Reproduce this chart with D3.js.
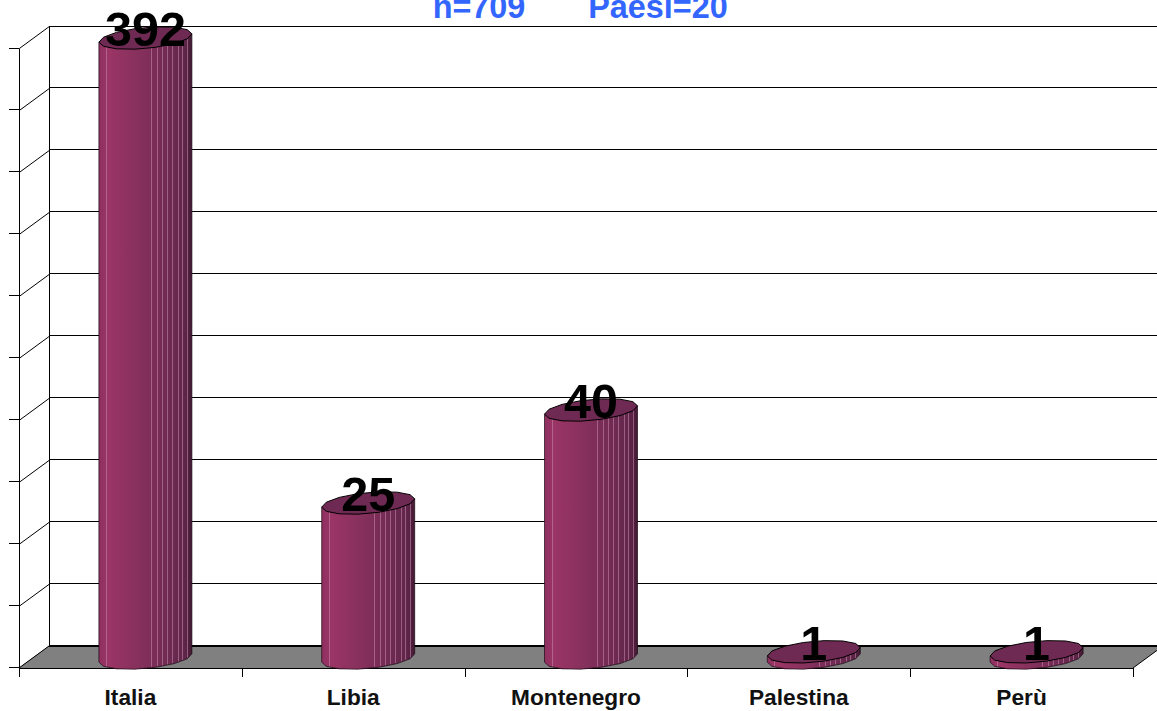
<!DOCTYPE html>
<html><head><meta charset="utf-8">
<script src="https://cdn.jsdelivr.net/npm/d3@7/dist/d3.min.js"></script>
<style>html,body{margin:0;padding:0;background:#fff;overflow:hidden}svg{display:block}text{font-family:"Liberation Sans",Arial,sans-serif;font-weight:bold}</style>
</head><body><svg id="c" width="1157" height="711"></svg>
<script>
const categories = ["Italia","Libia","Montenegro","Palestina","Perù"];
const values = [392,25,40,1,1];
const axisTicks = [0,10,20,30,40,50,60,70,80,90,100];
const titleParts = ["n=709","Paesi=20"];

const W=1157,H=711, depthX=30, depthY=22;
const svg=d3.select("#c");
const x=d3.scaleBand().domain(categories).range([19,1133]);
const yFront=d3.scaleLinear().domain([0,100]).range([668,48.4]);
const yBar=d3.scaleLinear().domain([0,100]).range([658,38]).clamp(true);
const yBack=v=>yFront(v)-depthY;
const snap=v=>Math.floor(v-0.4)+0.5;

const defs=svg.append("defs");
const grad=defs.append("linearGradient").attr("id","cyl");
[[0,"#8e3060"],[0.1,"#9b3566"],[0.45,"#85305c"],[0.75,"#6f2a52"],[0.92,"#60264a"],[1,"#431933"]]
 .forEach(s=>grad.append("stop").attr("offset",s[0]).attr("stop-color",s[1]));

// walls and grid
axisTicks.forEach(t=>{
  if(t>0) svg.append("line").attr("x1",49).attr("x2",W).attr("y1",snap(yBack(t))).attr("y2",snap(yBack(t))).attr("stroke","#000").attr("stroke-width",1);
  svg.append("line").attr("x1",19.5).attr("x2",49.5).attr("y1",yFront(t)).attr("y2",yBack(t)).attr("stroke","#000");
  svg.append("line").attr("x1",9).attr("x2",19).attr("y1",snap(yFront(t))).attr("y2",snap(yFront(t))).attr("stroke","#000");
});
svg.append("line").attr("x1",49.5).attr("x2",49.5).attr("y1",yBack(100)).attr("y2",yBack(0)).attr("stroke","#000").attr("stroke-width",1);
svg.append("line").attr("x1",19.5).attr("x2",19.5).attr("y1",yFront(100)).attr("y2",677).attr("stroke","#000");

// floor
svg.append("polygon").attr("points",[[19,yFront(0)],[49,yBack(0)],[1163,yBack(0)],[1133,yFront(0)]].join(" "))
  .attr("fill","#808080").attr("stroke","none");
svg.append("line").attr("x1",49).attr("x2",W).attr("y1",yBack(0)).attr("y2",yBack(0)).attr("stroke","#000").attr("stroke-width",2);
svg.append("line").attr("x1",19).attr("x2",49).attr("y1",yFront(0)).attr("y2",yBack(0)).attr("stroke","#000");
svg.append("line").attr("x1",1133).attr("x2",1163).attr("y1",yFront(0)).attr("y2",yBack(0)).attr("stroke","#000");
svg.append("line").attr("x1",19).attr("x2",1133).attr("y1",snap(yFront(0))+1).attr("y2",snap(yFront(0))+1).attr("stroke","#000");
const edges=[...categories.map(c=>x(c)),x.range()[1]];
edges.forEach(e=>svg.append("line").attr("x1",Math.round(e)+0.5).attr("x2",Math.round(e)+0.5).attr("y1",668).attr("y2",677).attr("stroke","#000"));

// cylinders
const rx=46.5, ry=10.5, facets=14, tilt=0.09;
const facetLines=[7,52,58,63,68,73,79,83,88];
const ring=(cx,cy)=>d3.range(facets).map(i=>{
  const a=i/facets*2*Math.PI;
  const ex=Math.cos(a)*rx, ey=Math.sin(a)*ry;
  return [cx+ex, cy+ey-ex*tilt];
});
categories.forEach((c,i)=>{
  const cx=x(c)+x.bandwidth()/2+depthX/2, top=yBar(values[i]), base=yBar(0);
  const g=svg.append("g");
  const rb=ring(cx,base), rt=ring(cx,top);
  const frontB=rb.slice(0,Math.floor(facets/2)+1);
  const side=[[cx+rx,top-rx*tilt],...frontB,[cx-rx,top+rx*tilt]];
  g.append("polygon").attr("points",side.join(" ")).attr("fill","url(#cyl)").attr("stroke","#1a0a14").attr("stroke-width",0.7);
  facetLines.forEach(o=>{
    const px=Math.round(cx-rx+o)+0.5;
    const u=(px-cx)/rx;
    const dy=Math.sqrt(Math.max(0,1-u*u))*ry;
    g.append("line").attr("x1",px).attr("x2",px).attr("y1",top+dy-u*rx*tilt).attr("y2",base+dy-u*rx*tilt-1)
     .attr("stroke","#c084a6").attr("stroke-opacity",0.6).attr("stroke-width",1);
  });
  g.append("polygon").attr("points",rt.join(" ")).attr("fill","#6e2a52").attr("stroke","#000").attr("stroke-width",1);
  svg.append("text").attr("x",cx).attr("y",top+8).attr("text-anchor","middle").attr("font-size",48.5).attr("fill","#000").text(values[i]);
  svg.append("text").attr("x",x(c)+x.bandwidth()/2).attr("y",705).attr("text-anchor","middle").attr("font-size",22.7).attr("fill","#111").text(c);
});

// title
svg.append("text").attr("x",479).attr("y",18).attr("text-anchor","middle").attr("font-size",32.4).attr("fill","#3366ff").text(titleParts[0]);
svg.append("text").attr("x",658).attr("y",18).attr("text-anchor","middle").attr("font-size",32.4).attr("fill","#3366ff").text(titleParts[1]);
</script></body></html>
